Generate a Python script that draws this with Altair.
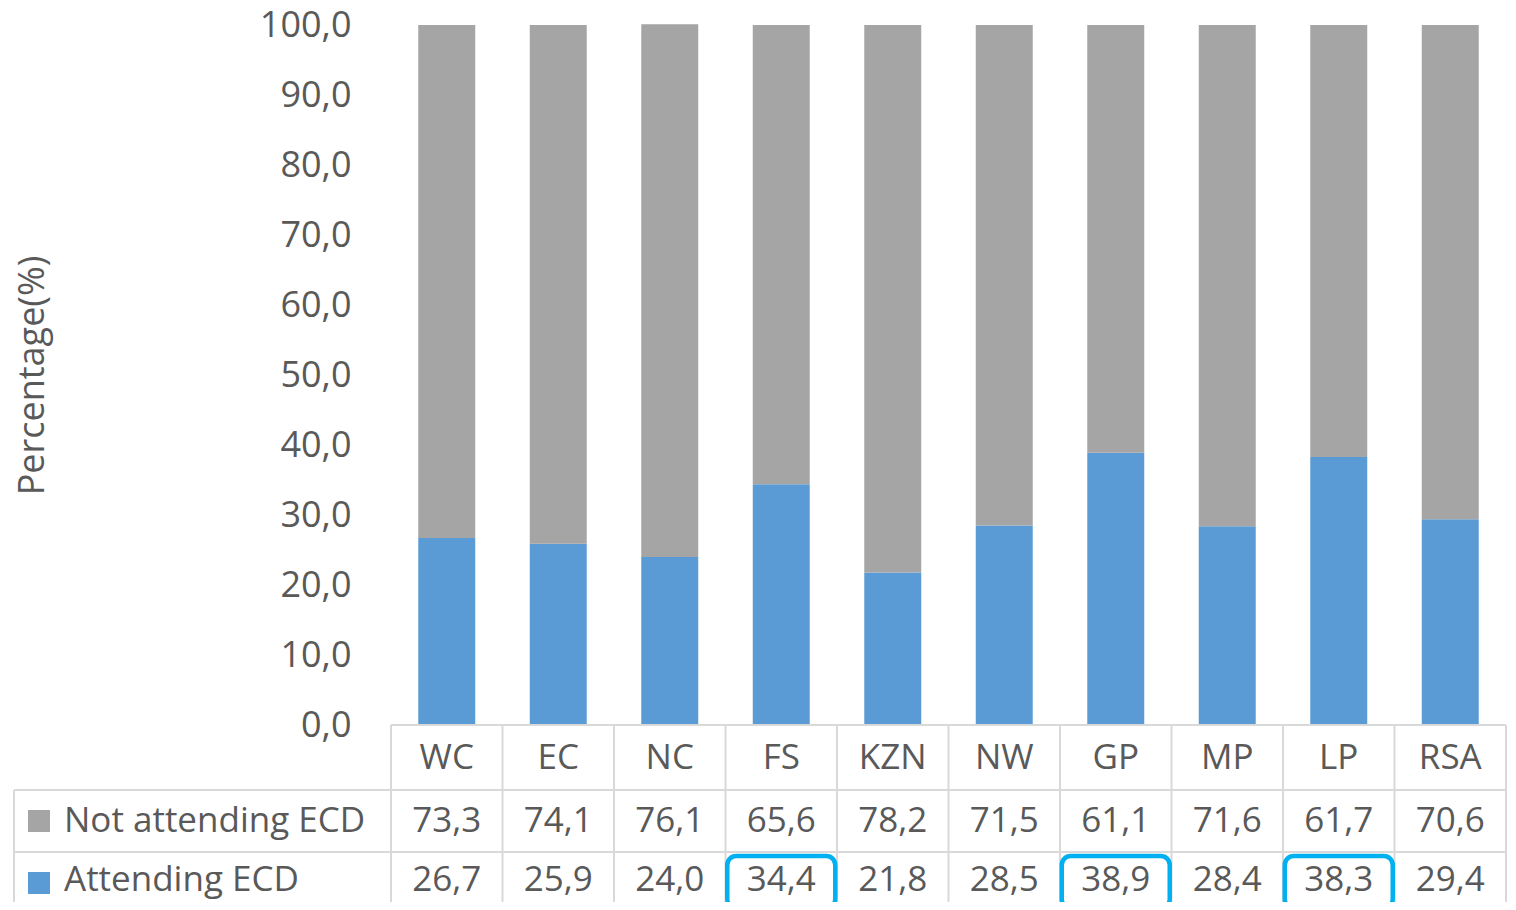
import altair as alt
import pandas as pd

categories = ["WC", "EC", "NC", "FS", "KZN", "NW", "GP", "MP", "LP", "RSA"]
not_attending = [73.3, 74.1, 76.1, 65.6, 78.2, 71.5, 61.1, 71.6, 61.7, 70.6]
attending = [26.7, 25.9, 24.0, 34.4, 21.8, 28.5, 38.9, 28.4, 38.3, 29.4]
series_names = ["Not attending ECD", "Attending ECD"]
series_colors = ["#A5A5A5", "#5B9BD5"]
highlighted = ["FS", "GP", "LP"]
y_ticks = [0, 10, 20, 30, 40, 50, 60, 70, 80, 90, 100]

W, H = 1115, 700
FONT = "Open Sans"
TXT = "#595959"
GRID = "#D9D9D9"
FS = 35
HALF = W / len(categories) / 2

fmt = "replace(format(datum.value, '.1f'), '.', ',')"

long_rows = []
for c, a, n in zip(categories, attending, not_attending):
    long_rows.append({"category": c, "series": series_names[1], "value": a, "ord": 0})
    long_rows.append({"category": c, "series": series_names[0], "value": n, "ord": 1})
long_df = pd.DataFrame(long_rows)

cat_df = pd.DataFrame({"category": categories})
na_df = pd.DataFrame({"category": categories, "value": not_attending})
at_df = pd.DataFrame({"category": categories, "value": attending})
hl_df = pd.DataFrame({"category": highlighted})

x_enc = alt.X("category:N", sort=categories,
              scale=alt.Scale(paddingInner=0.489, paddingOuter=0.2445), axis=None)
color_scale = alt.Scale(domain=series_names, range=series_colors)

bars = alt.Chart(long_df).mark_bar().encode(
    x=x_enc,
    y=alt.Y("value:Q", stack="zero",
            scale=alt.Scale(domain=[0, 100], nice=False),
            axis=alt.Axis(values=y_ticks, labelExpr=fmt, grid=False, domain=False, ticks=False,
                          labelFont=FONT, labelFontSize=36, labelColor=TXT, labelPadding=40,
                          title="Percentage(%)", titleFont=FONT, titleFontSize=36,
                          titleColor=TXT, titleFontWeight="normal", titleX=-359, titleY=350,
                          titleAlign="center", titleBaseline="middle")),
    color=alt.Color("series:N", scale=color_scale, legend=None),
    order=alt.Order("ord:Q"),
)

# table grid
vlines = alt.Chart(cat_df).mark_rule(color=GRID, strokeWidth=2, xOffset=-HALF).encode(
    x=x_enc, y=alt.value(H), y2=alt.value(H + 194))
vline_end = alt.Chart(cat_df).mark_rule(color=GRID, strokeWidth=2).encode(
    x=alt.value(W), y=alt.value(H), y2=alt.value(H + 194))
hline_top = alt.Chart(cat_df).mark_rule(color=GRID, strokeWidth=2).encode(
    x=alt.value(0), x2=alt.value(W), y=alt.value(H))
hline1 = alt.Chart(cat_df).mark_rule(color=GRID, strokeWidth=2).encode(
    x=alt.value(-377), x2=alt.value(W), y=alt.value(H + 65))
hline2 = alt.Chart(cat_df).mark_rule(color=GRID, strokeWidth=2).encode(
    x=alt.value(-377), x2=alt.value(W), y=alt.value(H + 127))
vline_left = alt.Chart(cat_df).mark_rule(color=GRID, strokeWidth=2).encode(
    x=alt.value(-377), y=alt.value(H + 65), y2=alt.value(H + 194))

text_props = dict(font=FONT, fontSize=FS, color=TXT, baseline="middle", align="center")

header = alt.Chart(cat_df).mark_text(**text_props).encode(
    x=x_enc, y=alt.value(H + 33), text="category:N")
row1 = alt.Chart(na_df).transform_calculate(lab=fmt).mark_text(**text_props).encode(
    x=x_enc, y=alt.value(H + 96), text="lab:N")
row2 = alt.Chart(at_df).transform_calculate(lab=fmt).mark_text(**text_props).encode(
    x=x_enc, y=alt.value(H + 155), text="lab:N")

hl = alt.Chart(hl_df).mark_bar(width=108, fill="white", fillOpacity=0, stroke="#00B0F0",
                               strokeWidth=4.5, cornerRadius=9).encode(
    x=x_enc, y=alt.value(H + 131), y2=alt.value(H + 183))

legend_layers = []
for i, (name, col) in enumerate(zip(series_names, series_colors)):
    yc = H + 96 + 62 * i
    ty = H + 96 + 59 * i
    sdf = pd.DataFrame({"series": [name]})
    sq = alt.Chart(sdf).mark_rect(color=col).encode(
        x=alt.value(-363), x2=alt.value(-341), y=alt.value(yc - 11), y2=alt.value(yc + 11))
    tx = alt.Chart(sdf).mark_text(font=FONT, fontSize=FS, color=TXT, baseline="middle",
                                  align="left").encode(
        x=alt.value(-327), y=alt.value(ty), text="series:N")
    legend_layers += [sq, tx]

chart = alt.layer(
    bars, vlines, vline_end, hline_top, hline1, hline2, vline_left,
    header, row1, row2, hl, *legend_layers
).properties(
    width=W, height=H,
    autosize=alt.AutoSizeParams(type="none"),
    padding={"left": 383, "top": 17, "right": 2, "bottom": 177},
    background="white",
).configure_view(stroke=None)

chart.save("out.html", embed_options={"renderer": "svg", "actions": False})
